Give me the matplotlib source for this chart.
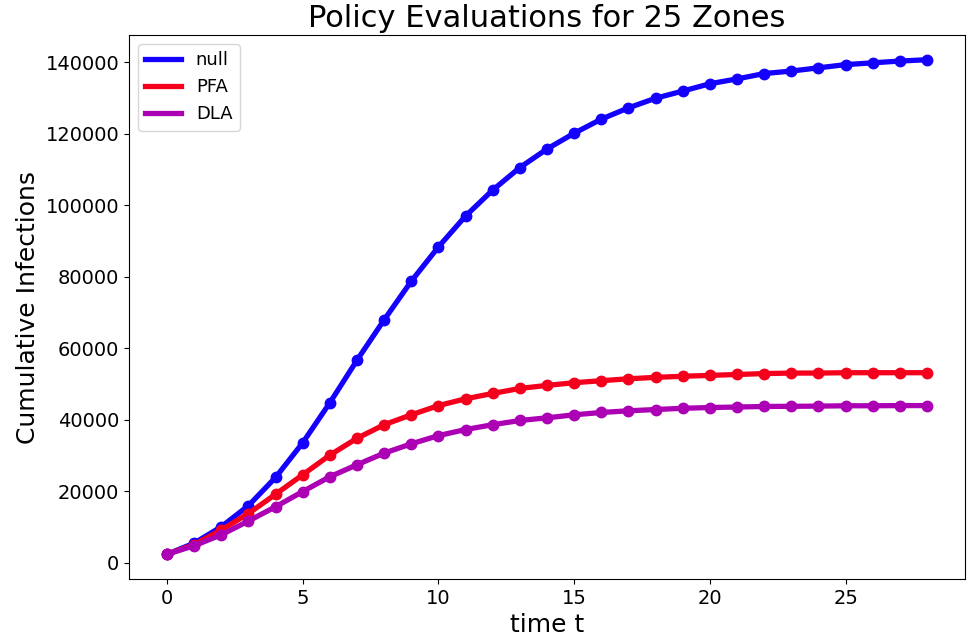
import matplotlib
matplotlib.use("Agg")
import matplotlib.pyplot as plt
import numpy as np

# time steps and cumulative infections per policy
t = np.arange(29)
null_vals = [2400, 5500, 10100, 16000, 23900, 33600, 44800, 56700, 68000, 78800,
             88400, 97050, 104300, 110600, 115800, 120200, 124150, 127300, 130000, 132000,
             134050, 135400, 136900, 137600, 138500, 139400, 139900, 140400, 140770]
pfa_vals = [2400, 5100, 9200, 13800, 19200, 24650, 30150, 34850, 38650, 41420,
            44000, 45900, 47400, 48800, 49650, 50400, 50960, 51500, 51900, 52200,
            52450, 52700, 52950, 53100, 53100, 53200, 53200, 53200, 53200]
dla_vals = [2400, 4800, 7850, 11700, 15700, 19950, 24100, 27450, 30700, 33300,
            35600, 37300, 38650, 39830, 40580, 41420, 42070, 42540, 42900, 43250,
            43450, 43600, 43750, 43800, 43850, 43950, 43950, 44000, 44000]

series = [("null", null_vals, "#1400ff"),
          ("PFA", pfa_vals, "#f5001c"),
          ("DLA", dla_vals, "#ac00b4")]

fig = plt.figure(figsize=(9.71, 6.37), dpi=100)
ax = fig.add_axes([129/971, 1-579/637, (965-129)/971, (579-35)/637])

for name, vals, col in series:
    ax.plot(t, vals, c=col, lw=3.8, label=name)
    ax.plot(t, vals, 'o', c=col, ms=7.5)

ax.set_title("Policy Evaluations for 25 Zones", fontsize=22)
ax.set_xlabel("time t", fontsize=18)
ax.set_ylabel("Cumulative Infections", fontsize=18)
ax.tick_params(labelsize=14)
ax.legend(loc='upper left', fontsize=13)

fig.savefig("out.png", dpi=100)
